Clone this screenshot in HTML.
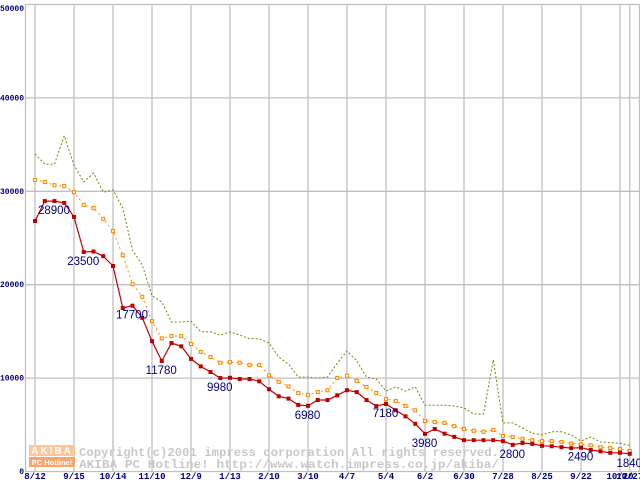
<!DOCTYPE html>
<html><head><meta charset="utf-8"><style>
html,body{margin:0;padding:0;background:#fff;}
svg{display:block;}
</style></head><body>
<svg id="chart" width="640" height="480" xmlns="http://www.w3.org/2000/svg">
<g id="grid"></g>
<g id="logo">
  <rect x="29" y="445" width="46" height="11" fill="#fcc59a"/>
  <text x="52" y="454" text-anchor="middle" font-family="Liberation Sans, sans-serif" font-size="10" font-weight="bold" fill="#fff" letter-spacing="2">AKIBA</text>
  <rect x="29" y="457" width="46" height="10" fill="#f9a46a"/>
  <text x="52" y="465" text-anchor="middle" font-family="Liberation Sans, sans-serif" font-size="7.5" font-weight="bold" fill="#fff">PC Hotline!</text>
</g>
<text x="79" y="456" textLength="420" lengthAdjust="spacingAndGlyphs" font-family="Liberation Mono, monospace" font-size="12" font-weight="bold" fill="#c8c8c8">Copyright(c)2001 impress corporation All rights reserved.</text>
<text x="79" y="468" textLength="420" lengthAdjust="spacingAndGlyphs" font-family="Liberation Mono, monospace" font-size="12" font-weight="bold" fill="#c8c8c8">AKIBA PC Hotline!  http://www.watch.impress.co.jp/akiba/</text>
<g id="series"></g>
<g id="axes"></g>
</svg>
<script>
const yTicks = [0, 10000, 20000, 30000, 40000, 50000];
const xTickLabels = ["8/12","9/15","10/14","11/10","12/9","1/13","2/10","3/10","4/7","5/4","6/2","6/30","7/28","8/25","9/22","10/20","10/27"];
const xTickIndex = [0,4,8,12,16,20,24,28,32,36,40,44,48,52,56,60,61];
const maxPrice = [33950,32850,32850,35900,32750,30950,31900,29850,30100,28150,23650,22050,18750,18100,15950,15950,16050,14900,14900,14550,14900,14550,14150,14150,13700,12200,11450,10050,10050,9950,10050,11550,12850,11800,10050,9850,8550,9000,8550,9000,7050,7050,7050,6950,6750,6100,6100,11900,5150,5150,4600,4050,3850,4200,4200,3850,3200,3650,3100,3050,2950,2750];
const avgPrice = [31150,30950,30600,30500,29850,28500,28150,27000,25700,23100,20000,18650,16050,14200,14450,14450,13600,12750,12200,11600,11650,11600,11350,11350,10250,9550,9050,8350,8150,8450,8650,9950,10200,9650,9000,8350,7700,7500,6950,6500,5350,5250,5150,4800,4500,4300,4200,4400,3750,3650,3450,3300,3200,3200,3100,2950,2850,2750,2550,2450,2350,2150];
const minPrice = [26770,28900,28900,28700,27200,23450,23500,23000,21950,17450,17700,16400,13900,11780,13700,13350,12000,11200,10600,9950,9980,9850,9850,9600,8750,8000,7750,7070,6980,7600,7600,8100,8650,8450,7600,6950,7180,6500,5850,5050,3980,4500,4000,3650,3300,3300,3300,3300,3200,2800,3000,2900,2700,2650,2550,2450,2490,2250,2100,1950,1950,1840];
const labelIndex = [2,5,10,13,19,28,36,40,49,56,61];
const labelText = ["28900","23500","17700","11780","9980","6980","7180","3980","2800","2490","1840"];

const NS = "http://www.w3.org/2000/svg";
const X0 = 35, DX = 9.75, Y0 = 471, YTOP = 4, VMAX = 50000;
function xs(i){ return X0 + DX*i; }
function ys(v){ return Y0 - (Y0-YTOP)*v/VMAX; }
function mk(tag, attrs, parent){
  const e = document.createElementNS(NS, tag);
  for (const k in attrs) e.setAttribute(k, attrs[k]);
  parent.appendChild(e); return e;
}
const grid = document.getElementById('grid');
const axes = document.getElementById('axes');
const series = document.getElementById('series');

yTicks.forEach(v=>{
  const l = mk('line',{x1:25,x2:640,y1:ys(v)+0.5,y2:ys(v)+0.5,stroke:'#c0c0c0','stroke-width':1.3},grid);
  
  
  const t = mk('text',{x:v===0?24:0,y:ys(v)+(v===50000?7:3),'text-anchor':v===0?'end':'start','font-family':'Liberation Mono, monospace','font-size':8,'font-weight':'bold',fill:'#000080'},axes);
  if (v!==0){ t.setAttribute('textLength','24'); t.setAttribute('lengthAdjust','spacingAndGlyphs'); }
  t.textContent = v===0 ? '0' : String(v);
  
  
});
const ax = mk('line',{x1:25.5,x2:25.5,y1:4,y2:471,stroke:'#c0c0c0','stroke-width':1.3},grid);


const rb = mk('line',{x1:639.5,x2:639.5,y1:4,y2:471,stroke:'#c0c0c0','stroke-width':1.3},grid);


xTickIndex.forEach((idx,k)=>{
  const x = xs(idx);
  const l = mk('line',{x1:x,x2:x,y1:4,y2:471,stroke:'#c0c0c0','stroke-width':1.3},grid);
  
  
  const t = mk('text',{x:x,y:479,'text-anchor':'middle','font-family':'Liberation Mono, monospace','font-size':9,'font-weight':'bold',fill:'#000080'},axes);
  t.textContent = xTickLabels[k];
  
  
});

function path(arr){ return arr.map((v,i)=>(i?'L':'M')+xs(i).toFixed(1)+' '+ys(v).toFixed(1)).join(' '); }
const pMax = mk('path',{d:path(maxPrice),fill:'none',stroke:'#808000','stroke-width':1,'stroke-dasharray':'2 2'},series);


const pAvg = mk('path',{d:path(avgPrice),fill:'none',stroke:'#ff8c00','stroke-width':1,'stroke-dasharray':'2 3'},series);


avgPrice.forEach((v,i)=>{
  const r = mk('rect',{x:xs(i)-1.5,y:ys(v)-1.5,width:3,height:3,fill:'#fff',stroke:'#ff8c00','stroke-width':1.1},series);
  
  
});
const pMin = mk('path',{d:path(minPrice),fill:'none',stroke:'#c00000','stroke-width':1.2},series);


minPrice.forEach((v,i)=>{
  const r = mk('rect',{x:xs(i)-2,y:ys(v)-2,width:4,height:4,fill:'#c00000'},series);
  
  
});
labelIndex.forEach((idx,k)=>{
  const t = mk('text',{x:xs(idx)-0.5,y:ys(minPrice[idx])+13,'text-anchor':'middle','font-family':'Liberation Sans, sans-serif','font-size':11.5,fill:'#000080'},series);
  t.textContent = labelText[k];
  
  
});
</script>
</body></html>
